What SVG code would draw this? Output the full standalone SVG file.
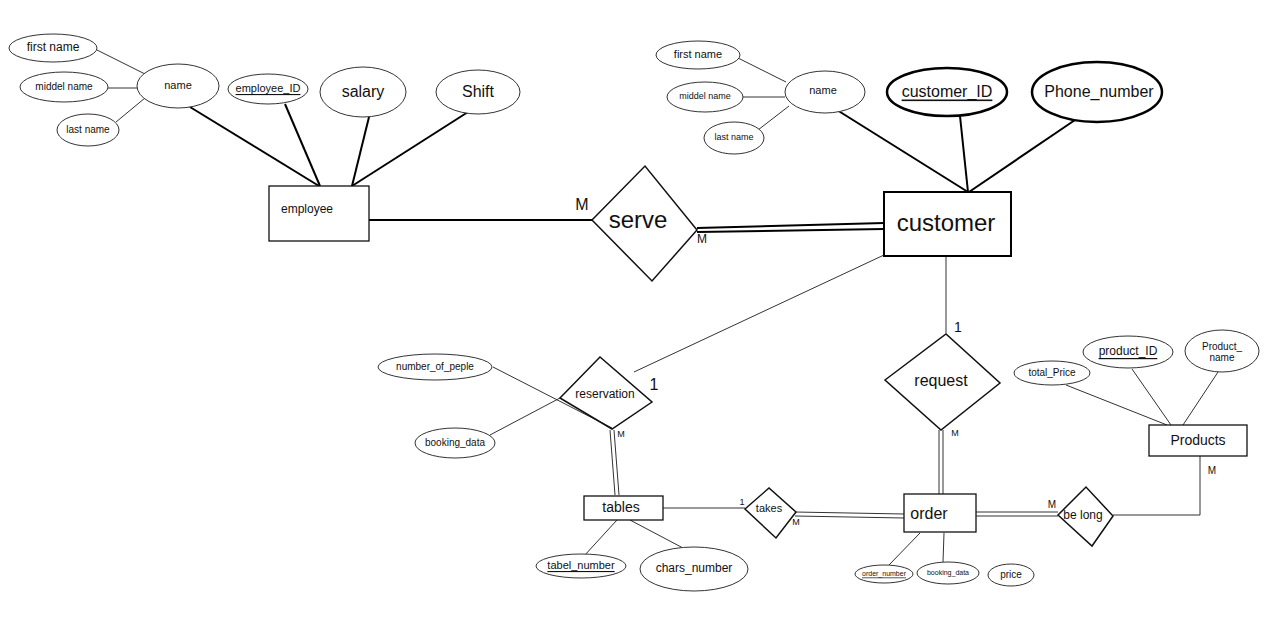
<svg xmlns="http://www.w3.org/2000/svg" width="1280" height="634" viewBox="0 0 1280 634">
<style>
.bg{fill:#fff}
.att{fill:#fff;stroke:#333;stroke-width:1}
.attb{fill:#fff;stroke:#000;stroke-width:2.5}
.ent{fill:#fff;stroke:#111;stroke-width:1.3}
.entb{fill:#fff;stroke:#000;stroke-width:2}
.rel{fill:#fff;stroke:#111;stroke-width:1.5}
.thin{stroke:#333;stroke-width:1;fill:none}
.thick{stroke:#000;stroke-width:2;fill:none}
text{font-family:"Liberation Sans","DejaVu Sans",sans-serif;fill:#111;text-anchor:middle;dominant-baseline:central}
.s9{font-size:9px}.s10{font-size:10px}.s11{font-size:11px}.s12{font-size:12px}.s13{font-size:13px}.s14{font-size:14px}.s16{font-size:16px}.s18{font-size:18px}.s24{font-size:24px}
.u{text-decoration:underline}
</style>
<rect class="bg" x="0" y="0" width="1280" height="634"/>
<g id="connectors">
  <line class="thin" x1="97" y1="50" x2="145" y2="74"/>
  <line class="thin" x1="108" y1="88" x2="138" y2="88"/>
  <line class="thin" x1="116" y1="122" x2="145" y2="98"/>
  <line class="thick" x1="190" y1="107" x2="319" y2="186"/>
  <line class="thick" x1="285" y1="104" x2="320" y2="186"/>
  <line class="thick" x1="369" y1="117" x2="352" y2="186"/>
  <line class="thick" x1="468" y1="112" x2="352" y2="186"/>
  <line class="thick" x1="369" y1="220" x2="592" y2="220"/>
  <line class="thick" x1="697" y1="228" x2="884" y2="223"/>
  <line class="thick" x1="697" y1="232" x2="884" y2="229"/>
  <line class="thin" x1="738" y1="58" x2="786" y2="82"/>
  <line class="thin" x1="743" y1="97" x2="785" y2="97"/>
  <line class="thin" x1="758" y1="130" x2="789" y2="106"/>
  <line class="thick" x1="837" y1="110" x2="968" y2="192"/>
  <line class="thick" x1="960" y1="116" x2="968" y2="192"/>
  <line class="thick" x1="1075" y1="120" x2="969" y2="192"/>
  <line class="thin" x1="884" y1="255" x2="634" y2="372"/>
  <line class="thin" x1="946" y1="256" x2="946" y2="333"/>
  <line class="thin" x1="493" y1="367" x2="612" y2="428"/>
  <line class="thin" x1="490" y1="435" x2="560" y2="398"/>
  <line class="thin" x1="610" y1="430" x2="615" y2="495"/>
  <line class="thin" x1="614" y1="430" x2="619" y2="495"/>
  <line class="thin" x1="939" y1="430" x2="939" y2="494"/>
  <line class="thin" x1="943" y1="430" x2="943" y2="494"/>
  <line class="thin" x1="663" y1="508" x2="745" y2="508"/>
  <line class="thin" x1="795" y1="512" x2="904" y2="514"/>
  <line class="thin" x1="795" y1="516" x2="904" y2="518"/>
  <line class="thin" x1="976" y1="512" x2="1058" y2="512"/>
  <line class="thin" x1="976" y1="516" x2="1058" y2="516"/>
  <polyline class="thin" points="1113,515 1200,515 1200,456"/>
  <line class="thin" x1="1066" y1="385" x2="1167" y2="425"/>
  <line class="thin" x1="1132" y1="369" x2="1171" y2="425"/>
  <line class="thin" x1="1220" y1="369" x2="1183" y2="425"/>
  <line class="thin" x1="617" y1="520" x2="584" y2="556"/>
  <line class="thin" x1="630" y1="520" x2="683" y2="548"/>
  <line class="thin" x1="920" y1="533" x2="889" y2="565"/>
  <line class="thin" x1="944" y1="533" x2="943" y2="562"/>
</g>
<g id="emp_first_name"><ellipse class="att" cx="53" cy="48" rx="44" ry="14"/><text class="s12" x="53" y="47">first name</text></g>
<g id="emp_middel_name"><ellipse class="att" cx="64" cy="87" rx="44" ry="15"/><text class="s10" x="64" y="86">middel name</text></g>
<g id="emp_last_name"><ellipse class="att" cx="88" cy="130" rx="31" ry="16"/><text class="s10" x="88" y="129">last name</text></g>
<g id="emp_name"><ellipse class="att" cx="178" cy="86" rx="41" ry="22"/><text class="s11" x="178" y="85">name</text></g>
<g id="employee_id"><ellipse class="att" cx="268" cy="89" rx="40" ry="15"/><text class="s11 u" x="268" y="88">employee_ID</text></g>
<g id="salary"><ellipse class="att" cx="363" cy="92" rx="43" ry="25"/><text class="s16" x="363" y="91">salary</text></g>
<g id="shift"><ellipse class="att" cx="478" cy="92" rx="42" ry="22"/><text class="s16" x="478" y="91">Shift</text></g>
<g id="employee"><rect class="ent" x="269" y="186" width="100" height="55"/><text class="s12" x="307" y="209">employee</text></g>
<g id="serve"><polygon class="rel" points="592,220 645,166 697,230 652,281"/><text class="s24" x="638" y="219">serve</text></g>
<g id="card_serve"><text class="s16" x="582" y="204">M</text><text class="s12" x="702" y="239">M</text></g>
<g id="customer"><rect class="entb" x="884" y="192" width="127" height="64"/><text class="s24" x="946" y="222">customer</text></g>
<g id="cus_first_name"><ellipse class="att" cx="698" cy="55" rx="42" ry="14"/><text class="s11" x="698" y="54">first name</text></g>
<g id="cus_middel_name"><ellipse class="att" cx="705" cy="97" rx="38" ry="15"/><text class="s9" x="705" y="96">middel name</text></g>
<g id="cus_last_name"><ellipse class="att" cx="734" cy="138" rx="30" ry="16"/><text class="s9" x="734" y="137">last name</text></g>
<g id="cus_name"><ellipse class="att" cx="825" cy="92" rx="40" ry="21"/><text class="s11" x="823" y="90">name</text></g>
<g id="customer_id"><ellipse class="attb" cx="947" cy="92" rx="60" ry="24"/><text class="s16 u" x="947" y="91">customer_ID</text></g>
<g id="phone_number"><ellipse class="attb" cx="1097" cy="92" rx="65" ry="30"/><text class="s16" x="1099" y="91">Phone_number</text></g>
<g id="reservation"><polygon class="rel" style="fill:none" points="560,398 600,357 652,402 612,429"/><text class="s12" x="605" y="394">reservation</text></g>
<g id="card_res"><text class="s16" x="654" y="384">1</text><text class="s9" x="621" y="434">M</text></g>
<g id="number_of_peple"><ellipse class="att" cx="435" cy="367" rx="57" ry="13"/><text class="s10" x="435" y="366">number_of_peple</text></g>
<g id="booking_data_res"><ellipse class="att" cx="455" cy="443" rx="40" ry="15"/><text class="s10" x="455" y="442">booking_data</text></g>
<g id="request"><polygon class="rel" points="885,380 946,334 1000,383 941,430"/><text class="s16" x="941" y="380">request</text></g>
<g id="card_req"><text class="s14" x="958" y="327">1</text><text class="s9" x="955" y="433">M</text></g>
<g id="tables"><rect class="ent" x="584" y="496" width="79" height="24"/><text class="s14" x="621" y="507">tables</text></g>
<g id="takes"><polygon class="rel" points="745,509 769,488 796,512 776,538"/><text class="s11" x="769" y="508">takes</text></g>
<g id="card_takes"><text class="s9" x="742" y="502">1</text><text class="s9" x="796" y="522">M</text></g>
<g id="order"><rect class="ent" x="904" y="494" width="72" height="38"/><text class="s16" x="929" y="513">order</text></g>
<g id="belong"><polygon class="rel" points="1058,515 1086,487 1113,516 1092,546"/><text class="s12" x="1083" y="515">be long</text></g>
<g id="card_belong"><text class="s10" x="1052" y="504">M</text><text class="s10" x="1212" y="470">M</text></g>
<g id="products"><rect class="ent" x="1149" y="425" width="98" height="31"/><text class="s14" x="1198" y="440">Products</text></g>
<g id="total_price"><ellipse class="att" cx="1052" cy="373" rx="38" ry="12"/><text class="s10" x="1052" y="372">total_Price</text></g>
<g id="product_id"><ellipse class="att" cx="1128" cy="352" rx="45" ry="16"/><text class="s12 u" x="1128" y="351">product_ID</text></g>
<g id="product_name"><ellipse class="att" cx="1222" cy="351" rx="37" ry="21"/><text class="s10" x="1222" y="346">Product_</text><text class="s10" x="1222" y="357">name</text></g>
<g id="tabel_number"><ellipse class="att" cx="581" cy="566" rx="45" ry="12"/><text class="s11 u" x="581" y="565">tabel_number</text></g>
<g id="chars_number"><ellipse class="att" cx="694" cy="569" rx="54" ry="22"/><text class="s12" x="694" y="568">chars_number</text></g>
<g id="order_number"><ellipse class="att" cx="884" cy="574" rx="29" ry="9"/><text class="u" x="884" y="573" style="font-size:7px">order_number</text></g>
<g id="booking_data_order"><ellipse class="att" cx="948" cy="573" rx="31" ry="11"/><text x="948" y="572" style="font-size:7px">booking_data</text></g>
<g id="price"><ellipse class="att" cx="1011" cy="575" rx="23" ry="11"/><text class="s10" x="1011" y="574">price</text></g>
</svg>
